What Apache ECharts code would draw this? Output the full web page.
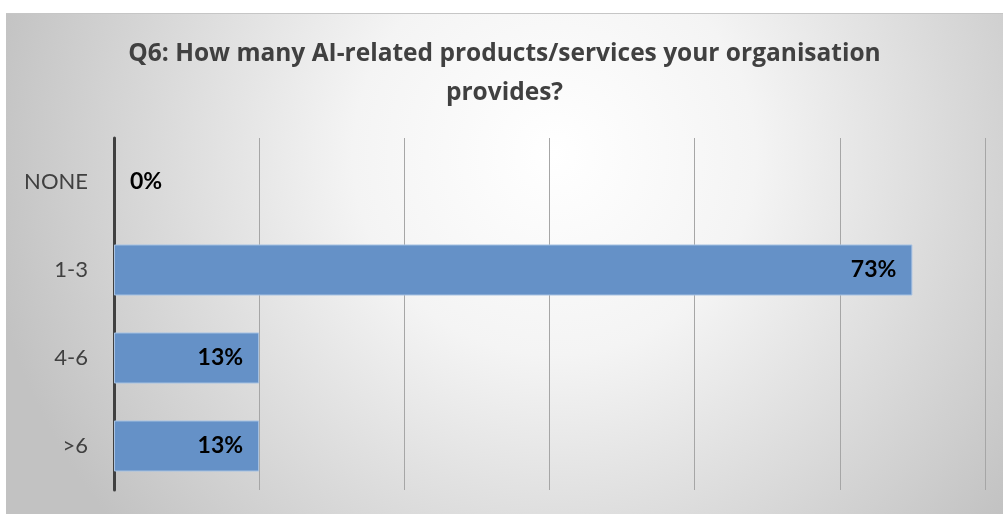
<!DOCTYPE html>
<html>
<head>
<meta charset="utf-8">
<script src="https://cdn.jsdelivr.net/npm/echarts@6/dist/echarts.min.js"></script>
<style>
  html, body { margin: 0; padding: 0; background: #ffffff; }
  body { width: 1003px; height: 514px; position: relative; overflow: hidden; }
  #chart { position: absolute; left: 6px; top: 13px; width: 997px; height: 501px;
           border-top: 1px solid #c6c6c6; box-sizing: border-box; }
</style>
</head>
<body>
<div id="chart"></div>
<script>
// Survey answers: number of AI-related products/services offered
const categories = ['NONE', '1-3', '4-6', '>6'];
const shares = [0, 73.33, 13.33, 13.33];      // percent of respondents
const axisMax = 80;
const axisStep = 80 / 6;
const titleText = 'Q6: How many AI-related products/services your organisation\nprovides?';

const chart = echarts.init(document.getElementById('chart'), null, { renderer: 'canvas' });

const labelFont = 'Lato, "Open Sans", sans-serif';

chart.setOption({
  backgroundColor: {
    type: 'radial', x: 0.55, y: 0.28, r: 1.15,
    colorStops: [
      { offset: 0, color: '#ffffff' },
      { offset: 0.35, color: '#f4f4f4' },
      { offset: 1, color: '#c2c2c2' }
    ]
  },
  animation: false,
  title: {
    text: titleText,
    left: 'center',
    top: 16,
    textStyle: {
      fontFamily: '"Open Sans", sans-serif',
      fontWeight: 'bold',
      fontSize: 24.5,
      lineHeight: 39,
      color: '#404040'
    }
  },
  grid: { left: 108, right: 18, top: 124, bottom: 24 },
  xAxis: {
    type: 'value',
    min: 0,
    max: axisMax,
    interval: axisStep,
    axisLine: { show: false },
    axisTick: { show: false },
    axisLabel: { show: false },
    splitLine: { lineStyle: { color: '#a6a6a6', width: 1 } }
  },
  yAxis: {
    type: 'category',
    data: categories,
    inverse: true,
    axisLine: { lineStyle: { color: '#404040', width: 3 } },
    axisTick: { show: false },
    axisLabel: {
      margin: 26,
      fontFamily: labelFont,
      fontSize: 22,
      color: '#404040'
    }
  },
  series: [{
    type: 'bar',
    data: shares.map(v => v === 0
      ? { value: v, label: { position: 'right' }, itemStyle: { borderWidth: 0 } }
      : { value: v }),
    barWidth: '58%',
    itemStyle: {
      color: '#6591c7',
      borderColor: '#a9c3e3',
      borderWidth: 1
    },
    label: {
      show: true,
      position: 'insideRight',
      distance: 16,
      formatter: p => Math.round(p.value) + '%',
      fontFamily: labelFont,
      fontWeight: 'bold',
      fontSize: 23,
      color: '#000000'
    }
  }]
});
</script>
</body>
</html>
